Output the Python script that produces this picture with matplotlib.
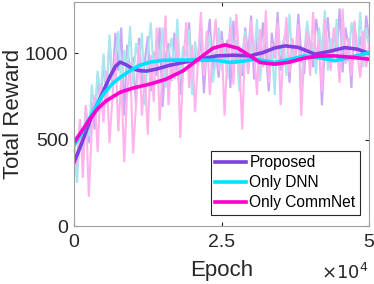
import numpy as np
import matplotlib
matplotlib.use("Agg")
import matplotlib.pyplot as plt

plt.rcParams['font.family'] = ['Liberation Sans', 'DejaVu Sans']

# Smoothed curves (epoch in units of 1e4)
proposed_x = [0, 0.13, 0.27, 0.4, 0.5, 0.6, 0.7, 0.78, 0.88, 1.0, 1.12, 1.23, 1.4, 1.6, 1.85, 2.1, 2.42, 2.7,
              2.98, 3.2, 3.4, 3.58, 3.8, 4.08, 4.3, 4.59, 4.8, 5.0]
proposed_s = [370, 480, 611, 710, 784, 860, 925, 950, 935, 910, 900, 898, 910, 930, 948, 965, 986, 990,
              986, 1005, 1032, 1044, 1035, 996, 1010, 1034, 1025, 1000]
dnn_x = [0, 0.13, 0.27, 0.4, 0.5, 0.65, 0.78, 0.95, 1.1, 1.29, 1.5, 1.8, 2.1, 2.42, 2.64, 2.85, 3.07, 3.4,
         3.65, 3.9, 4.15, 4.42, 4.7, 5.0]
dnn_s = [467, 540, 630, 710, 765, 825, 861, 900, 930, 950, 960, 962, 962, 960, 948, 955, 967, 948,
         965, 986, 975, 958, 980, 1005]
comm_x = [0, 0.13, 0.27, 0.4, 0.55, 0.78, 1.0, 1.29, 1.55, 1.85, 2.14, 2.35, 2.56, 2.78, 2.98, 3.15, 3.4,
          3.65, 3.9, 4.15, 4.42, 4.7, 5.0]
comm_s = [486, 550, 621, 680, 727, 775, 800, 823, 850, 900, 976, 1030, 1050, 1030, 986, 948, 938,
          950, 973, 985, 986, 978, 967]

# Raw noisy rewards (sampled every 500 epochs)
proposed_raw = [380, 300, 520, 410, 650, 480, 720, 560, 880, 700, 950, 760, 1080, 820, 1120, 900, 1150, 640, 1050, 880,
                980, 700, 1090, 820, 960, 1100, 780, 1010, 870, 1150, 690, 980, 1060, 840, 1120, 900, 760, 1040, 980, 1180,
                850, 1010, 930, 1100, 770, 1050, 1200, 900, 1010, 860, 1130, 960, 1080, 800, 1190, 940, 1040, 870, 1150, 990,
                1220, 850, 1090, 950, 1180, 1010, 780, 1120, 980, 1240, 900, 1060, 1150, 830, 1080, 960, 1230, 1000, 880, 1170,
                1040, 920, 1200, 1090, 700, 1050, 1210, 960, 1120, 1010, 1260, 890, 1150, 1040, 800, 1180, 1000, 1100, 950, 1220, 1080]
dnn_raw = [470, 250, 600, 430, 700, 520, 820, 640, 900, 760, 1000, 720, 1110, 850, 960, 1130, 780, 1020, 900, 1160,
           820, 1060, 950, 1120, 700, 1010, 1180, 880, 1070, 960, 1150, 800, 1000, 1090, 910, 1200, 860, 1030, 980, 1140,
           760, 1070, 940, 1190, 880, 1010, 1100, 830, 960, 1150, 900, 1040, 850, 1210, 930, 1080, 780, 1000, 1130, 890,
           1060, 970, 1200, 840, 1010, 1120, 920, 1050, 760, 1170, 990, 1080, 870, 1230, 950, 1040, 1110, 820, 1000, 1190,
           930, 1060, 880, 1150, 1010, 1250, 900, 1090, 970, 1200, 860, 1130, 1040, 950, 1180, 1070, 990, 1240, 920, 1150, 1030]
comm_raw = [480, 350, 620, 280, 700, 170, 560, 760, 430, 820, 600, 900, 480, 740, 1000, 550, 860, 370, 780, 950,
            420, 700, 1050, 640, 880, 530, 990, 720, 1150, 610, 900, 1220, 700, 980, 850, 1090, 510, 930, 1180, 800,
            1050, 660, 960, 1240, 870, 1130, 760, 1010, 1200, 900, 1080, 640, 1000, 1160, 820, 1230, 950, 560, 1100, 880,
            1190, 1020, 760, 1140, 920, 1250, 830, 1060, 970, 1180, 700, 1010, 1210, 890, 1090, 950, 1170, 640, 1000, 1130,
            870, 1240, 960, 1080, 780, 1200, 1010, 900, 1150, 1050, 830, 1260, 940, 1090, 870, 1190, 1000, 860, 1130, 920, 1060]

labels = ["Proposed", "Only DNN", "Only CommNet"]
colors = ["#7E3FE2", "#00E1FF", "#FF00CC"]
raw_colors = ["#C9A8F6", "#AAE6EE", "#FFB2EC"]

fig = plt.figure(figsize=(3.74, 2.84), dpi=100)
ax = fig.add_axes([0.198, 0.204, 0.789, 0.79])

for raw, rc in zip([proposed_raw, dnn_raw, comm_raw], raw_colors):
    ex = np.arange(len(raw)) * 500
    ax.plot(ex, raw, color=rc, lw=1.5, solid_joinstyle='miter')

for xs, ys, c, lab in zip([proposed_x, dnn_x, comm_x], [proposed_s, dnn_s, comm_s], colors, labels):
    ax.plot(np.array(xs) * 1e4, ys, color=c, lw=2.6, label=lab, solid_joinstyle='round')

ax.set_xlim(0, 50000)
ax.set_ylim(0, 1300)
ax.set_xticks([0, 25000, 50000])
ax.set_xticklabels(["0", "2.5", "5"])
ax.set_yticks([0, 500, 1000])
ax.tick_params(direction='in', length=3, labelsize=14, top=True, right=True, colors='#262626')
ax.tick_params(axis='x', pad=6)
ax.tick_params(axis='y', pad=4)
for s in ax.spines.values():
    s.set_color('#A0A0A0')
    s.set_linewidth(0.8)
ax.set_xlabel("Epoch", fontsize=16, color='#262626', labelpad=6)
ax.set_ylabel("Total Reward", fontsize=16, color='#262626', labelpad=1)
fig.text(0.985, 0.003, r"$\times10^4$", ha='right', va='bottom', fontsize=13, color='#262626')

leg = ax.legend(loc='lower right', fontsize=11.2, handlelength=2.0, handletextpad=0.2,
                borderpad=0.3, labelspacing=0.32, fancybox=False, framealpha=1,
                bbox_to_anchor=(0.97, 0.05), borderaxespad=0)
leg.get_frame().set_edgecolor('#262626')
leg.get_frame().set_linewidth(0.8)

fig.savefig("out.png", dpi=100)
